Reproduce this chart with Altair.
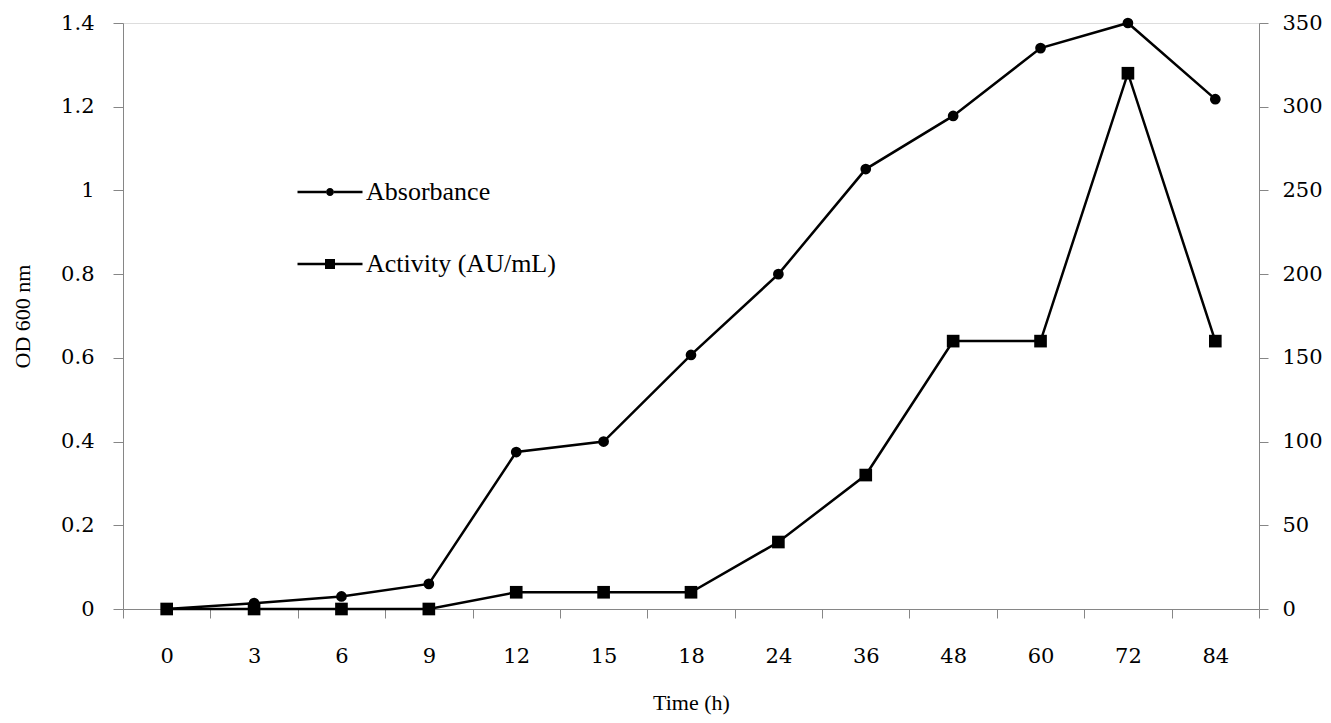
import altair as alt
import pandas as pd

times = ["0", "3", "6", "9", "12", "15", "18", "24", "36", "48", "60", "72", "84"]
absorbance = [0.0, 0.014, 0.03, 0.06, 0.375, 0.40, 0.607, 0.80, 1.051, 1.178, 1.34, 1.40, 1.218]
activity = [0, 0, 0, 0, 10, 10, 10, 40, 80, 160, 160, 320, 160]
left_ticks = [0, 0.2, 0.4, 0.6, 0.8, 1.0, 1.2, 1.4]
right_ticks = [0, 50, 100, 150, 200, 250, 300, 350]

df_abs = pd.DataFrame({"time": times, "value": absorbance, "series": "Absorbance"})
df_act = pd.DataFrame({"time": times, "value": activity, "series": "Activity (AU/mL)"})

AX = "#868686"
TICKFONT = "DejaVu Serif"
SERIF = "Liberation Serif"
TFS = 21

circle_path = ("M-6.5,-0.24H-0.8V0.24H-6.5Z M0.8,-0.24H6.5V0.24H0.8Z "
               "M0.8,0A0.8,0.8 0 1,1 -0.8,0A0.8,0.8 0 1,1 0.8,0Z")
square_path = ("M-6.5,-0.24H-1V0.24H-6.5Z M1,-0.24H6.5V0.24H1Z "
               "M-1,-1H1V1H-1Z")

x_enc = alt.X(
    "time:N", sort=times, bandPosition=0.5,
    scale=alt.Scale(type="band", paddingInner=0, paddingOuter=0),
    axis=alt.Axis(
        title="Time  (h)", tickBand="extent", labelAngle=0,
        domainColor=AX, tickColor=AX, tickSize=9, labelPadding=27,
        labelFont=TICKFONT, labelFontSize=TFS, labelColor="black",
        titleFont=SERIF, titleFontSize=22, titleFontWeight="normal",
        titleColor="black", titleY=100, titleBaseline="alphabetic",
        grid=False,
    ),
)

y_left = alt.Y(
    "value:Q",
    scale=alt.Scale(domain=[0, 1.4], nice=False),
    axis=alt.Axis(
        title="OD  600  nm", values=left_ticks, format="~g", orient="left",
        domainColor=AX, tickColor=AX, tickSize=10, labelPadding=19,
        labelFont=TICKFONT, labelFontSize=TFS, labelColor="black",
        titleFont=SERIF, titleFontSize=22, titleFontWeight="normal",
        titleColor="black", titleX=-101, titleBaseline="middle", grid=False,
    ),
)

y_right = alt.Y(
    "value:Q",
    scale=alt.Scale(domain=[0, 350], nice=False),
    axis=alt.Axis(
        title=None, values=right_ticks, orient="right",
        domainColor=AX, tickColor=AX, tickSize=9, labelPadding=14,
        labelFont=TICKFONT, labelFontSize=TFS, labelColor="black",
        grid=False,
    ),
)

def legend(path, ly):
    return alt.Legend(
        title=None, orient="none", legendX=194, legendY=ly, padding=0,
        symbolType=path, symbolSize=100, symbolFillColor="black",
        symbolStrokeColor="black", symbolStrokeWidth=0, symbolOpacity=1,
        labelFont=SERIF, labelFontSize=26, labelColor="black", labelOffset=23,
        labelLimit=0,
    )

abs_line = alt.Chart(df_abs).mark_line(color="black", strokeWidth=2.5).encode(x=x_enc, y=y_left)
abs_pts = alt.Chart(df_abs).mark_point(filled=True, shape="circle", size=115, opacity=1).encode(
    x=x_enc, y=y_left,
    color=alt.Color("series:N", scale=alt.Scale(domain=["Absorbance"], range=["black"]),
                    legend=legend(circle_path, 156)),
)
act_line = alt.Chart(df_act).mark_line(color="black", strokeWidth=2.5).encode(x=x_enc, y=y_right)
act_pts = alt.Chart(df_act).mark_point(filled=True, shape="square", size=160, opacity=1).encode(
    x=x_enc, y=y_right,
    color=alt.Color("series:N", scale=alt.Scale(domain=["Activity (AU/mL)"], range=["black"]),
                    legend=legend(square_path, 228)),
)

left = alt.layer(abs_line, abs_pts)
right = alt.layer(act_line, act_pts)

chart = alt.layer(left, right).resolve_scale(y="independent", color="independent").properties(
    width=1136, height=586,
    autosize=alt.AutoSizeParams(type="none"),
    padding={"left": 115, "top": 15, "right": 64, "bottom": 106},
).configure_view(stroke=None).configure(background="white")

chart.save("out.html", embed_options={"renderer": "svg", "actions": False})
